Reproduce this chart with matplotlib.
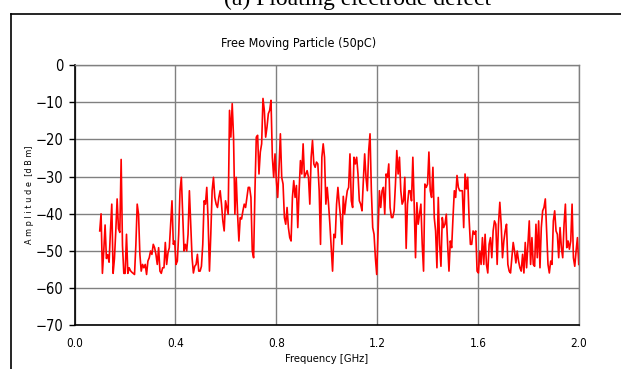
import numpy as np
import matplotlib
matplotlib.use('Agg')
from matplotlib import pyplot as plt
from matplotlib.lines import Line2D

# spectrum analyser sweep, GHz
FREQ_START = 0.1
FREQ_STOP = 2.0

# amplitude readings [dBm], split by frequency band
amp_010_041 = [-44.6, -40, -56, -50, -43, -52, -51, -53, -44.6, -37.4,
               -56, -52, -44.6, -36, -44, -45, -25.4, -48.5, -56, -56,
               -45.5, -56, -54.5, -55.3, -55.7, -56, -56.3, -48.4, -37.4, -40.1,
               -50.9, -55.4, -53.6, -54.5, -53.6, -56.3, -52.7, -51.8, -50, -50.9,
               -48.2, -49.1, -50.9, -53.6, -49.1, -55.4, -56, -54.5, -54.5, -47.7,
               -53.6, -50.5, -49.1, -42.8, -36.5, -48.2]
amp_041_072 = [-47.3, -53.6, -52.7, -45.5, -33.8, -30.2, -40.1, -50, -48.2, -50,
               -45.5, -33.8, -42.8, -51.8, -55.9, -54.1, -53.6, -50.9, -55.4, -55.4,
               -54.1, -48.2, -36.5, -37.4, -32.9, -41.9, -55.4, -45.5, -33.8, -30.2,
               -35.6, -37.4, -38.3, -35.6, -33.8, -37.4, -41.9, -44.6, -36.5, -38.3,
               -40.1, -12.2, -19.4, -10.4, -19.4, -40.1, -30.2, -40, -47.3, -41,
               -41.4, -39.2, -37.4, -38.3, -35.6, -32.9, -32.9, -35.6, -50, -51.8]
amp_072_104 = [-33.8, -19.4, -18.9, -29.3, -23.4, -21.2, -9.0, -12.2, -19.4, -16.7,
               -13.1, -12.2, -9.5, -24.8, -30.2, -23.9, -31.1, -35.6, -27.5, -18.5,
               -30.2, -32, -41, -42.8, -38.3, -43.7, -46.4, -47.3, -35.6, -31.1,
               -35.6, -32.4, -43.7, -33.8, -25.7, -29.3, -21.2, -30.2, -29.3, -28.4,
               -30.2, -37.4, -24.8, -20.3, -26.6, -27.5, -26.1, -26.6, -33.8, -48.2,
               -24.8, -21.2, -24.8, -37.4, -32.9, -37.4, -42.8, -49.1, -55.4, -45.5]
amp_104_136 = [-46.4, -37.4, -32.9, -37.4, -41, -48.2, -35.3, -40.1, -36.5, -33.8,
               -32.9, -23.9, -36.5, -38.3, -24.8, -26.6, -24.8, -29.3, -36.5, -37.4,
               -39.2, -31.1, -23.9, -30.2, -33.8, -23, -18.5, -33.8, -43.7, -45.5,
               -51.8, -56.3, -44.6, -33.8, -38.3, -33.8, -32.9, -40.1, -29.3, -30.2,
               -26.6, -38.3, -41, -41, -39.2, -32, -23, -29.3, -24.8, -33.8,
               -37.4, -36.5, -30.2, -49.3, -37.4, -33.8, -33.8, -36.5, -24.8, -37.4]
amp_136_167 = [-51.8, -37, -42.8, -40.1, -37.4, -48.2, -55.4, -32, -32.9, -32,
               -23.4, -33.8, -35.6, -27.5, -41, -44.6, -54.5, -35.6, -48.2, -54.1,
               -41, -43.7, -42.8, -40.1, -48.2, -55.4, -47.3, -49.1, -41, -33.8,
               -35.6, -29.7, -32.9, -33.8, -33.8, -33.8, -43.7, -29.3, -33.3, -30.2,
               -41, -48.2, -48.2, -44.6, -45.5, -44.6, -55.4, -55.9, -50, -53.6,
               -46.4, -53.6, -45.5, -53.6, -55.9, -48.2, -46.4, -51.8, -44.6, -41.9]
amp_167_200 = [-42.8, -53.6, -42.8, -36.9, -42.8, -51.8, -47.3, -44.6, -42.8, -53.6,
               -55.4, -55.9, -51.8, -47.7, -50, -53.2, -50, -52.7, -54.5, -55.4,
               -50.9, -55.9, -47.7, -54.5, -48.2, -41.9, -53.6, -46.4, -53.6, -54.1,
               -42.8, -51.8, -41.9, -54.5, -43.7, -39.2, -38.3, -36, -44.6, -53.6,
               -55.9, -52.7, -53.6, -41.9, -39.2, -44.6, -45.5, -51.8, -43.7, -49.1,
               -51.8, -42.8, -37.4, -49.1, -47.3, -49.5, -47.3, -37.4, -51.8, -54.1,
               -50, -46.4, -53.6]

amplitude = (amp_010_041 + amp_041_072 + amp_072_104 +
             amp_104_136 + amp_136_167 + amp_167_200)
freq = np.linspace(FREQ_START, FREQ_STOP, len(amplitude))

x_ticks = [0.0, 0.4, 0.8, 1.2, 1.6, 2.0]
y_ticks = [0, -10, -20, -30, -40, -50, -60, -70]

NARROW = dict(family='DejaVu Sans', stretch='condensed')

fig = plt.figure(figsize=(6.21, 3.69), dpi=100)
ax = fig.add_axes([0.120, 0.118, 0.812, 0.706])

ax.plot(freq, amplitude, color='#ff0000', lw=1.2)

ax.set_xlim(0, 2.0)
ax.set_ylim(-70, 0)
ax.set_xticks(x_ticks)
ax.set_xticklabels(['%.1f' % v for v in x_ticks], fontsize=8.5, **NARROW)
ax.set_yticks(y_ticks)
ax.set_yticklabels([str(v).replace('-', '\u2212') for v in y_ticks],
                   fontsize=10.5, **NARROW)
ax.tick_params(axis='x', length=0, pad=8)
ax.tick_params(axis='y', length=4, width=1, direction='out', pad=4)

ax.grid(True, color='#808080', lw=1)
for side in ['top', 'right']:
    ax.spines[side].set_color('#808080')
    ax.spines[side].set_linewidth(1)
for side in ['left', 'bottom']:
    ax.spines[side].set_color('black')
    ax.spines[side].set_linewidth(1.2)

ax.set_xlabel('Frequency [GHz]', fontsize=8, labelpad=3, **NARROW)
ax.set_ylabel('A m p l i t u d e  [d B m]', fontsize=6.5, labelpad=1, **NARROW)

fig.text(0.48, 1 - 43 / 369, 'Free Moving Particle (50pC)',
         fontsize=9, ha='center', va='center', **NARROW)
fig.text(0.575, 1 - 5 / 369, '(a) Floating electrode defect',
         family=['Liberation Serif', 'DejaVu Serif'], fontsize=17,
         ha='center', va='baseline')

# outer frame (left and top edges visible)
fig.add_artist(Line2D([11 / 621, 11 / 621], [0, 1 - 14 / 369], color='black', lw=1.2))
fig.add_artist(Line2D([11 / 621, 1], [1 - 14 / 369, 1 - 14 / 369], color='black', lw=1.2))

fig.savefig('out.png', dpi=100)
